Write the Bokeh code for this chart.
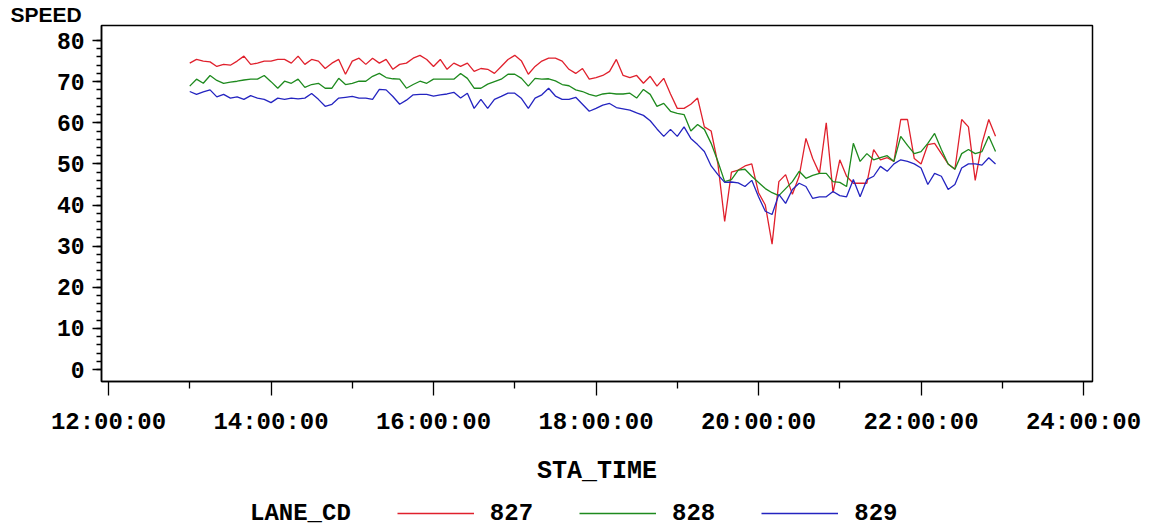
import numpy as np
from bokeh.plotting import figure
from bokeh.layouts import column
from bokeh.models import (Range1d, FixedTicker, Legend, LegendItem, ColumnDataSource)
from bokeh.embed import file_html
from bokeh.resources import INLINE

# ---- data (5-minute samples from 13:00 to 22:55) ----
legend_title = "LANE_CD"
lanes = ["827", "828", "829"]
speed_827 = [74.5, 75.4, 75, 74.8, 73.7, 74.2, 74, 75, 76.2, 74.2,
             74.5, 75, 75, 75.4, 75.4, 74.5, 76.2, 74.2, 75.4, 75,
             73.2, 74.5, 75.4, 71.8, 75, 75.7, 74.2, 75.7, 74.5, 75.4,
             73, 74.2, 74.5, 75.7, 76.4, 75.4, 73.7, 75.4, 73, 74.5,
             73.7, 74.5, 72.5, 73.2, 73, 72, 73.7, 75.4, 76.4, 75,
             71.8, 73.7, 75, 75.7, 75.7, 75, 73, 72, 73.2, 70.6,
             71, 71.5, 72.5, 75.4, 71.5, 71, 71.5, 69.6, 71.3, 68.9,
             70.8, 67, 63.5, 63.5, 64.5, 66, 59, 58, 50, 36,
             48, 48.5, 49.5, 50, 43, 40, 30.5, 45.7, 47.4, 42.6,
             47, 56.2, 51.3, 47.7, 60, 43, 51, 47, 45.3, 45.3,
             45.3, 53.5, 51, 51.5, 50.6, 60.8, 60.8, 51.3, 50, 54.7,
             55, 52.5, 50, 48.7, 60.8, 59, 46, 55, 60.8, 56.7]
speed_828 = [68.9, 70.6, 69.6, 71.5, 70.3, 69.6, 69.9, 70.1, 70.4, 70.6,
             70.6, 71.5, 70, 68.4, 70.1, 69.6, 70.6, 68.6, 69.3, 69.6,
             68.4, 68.4, 70.8, 69.3, 69.6, 70.1, 70.1, 71.3, 72, 71,
             70.7, 70.6, 68.4, 69.3, 70.1, 69.6, 70.6, 70.6, 70.6, 70.6,
             72, 70.8, 68.4, 68.4, 69.4, 70, 70.6, 71.8, 71.8, 70.8,
             68.9, 70.8, 70.6, 70.7, 70.2, 69.3, 69, 68, 67.6, 66.9,
             66.5, 67, 67.2, 67, 67, 67.2, 66, 68.1, 66.9, 64,
             64.7, 62.8, 62.3, 62, 58, 59.6, 58.4, 55, 50.6, 45.7,
             46.2, 48.5, 48.7, 47, 45.5, 44, 43, 42.3, 44, 45.7,
             48.2, 46.5, 47.2, 47.7, 47.7, 45.7, 45.5, 44.5, 55, 50.6,
             52.5, 51, 51.5, 52, 50.6, 56.7, 54.5, 52.5, 53, 55,
             57.4, 53.5, 50, 48.7, 52.5, 53.5, 52.5, 53, 56.7, 53]
speed_829 = [67.6, 66.9, 67.5, 68, 66.3, 66.9, 66, 66.3, 65.7, 66.6,
             66, 65.7, 64.9, 66, 65.7, 66, 65.8, 66, 67.1, 65.7,
             64, 64.5, 66, 66.2, 66.4, 66, 66, 65.7, 68.1, 68,
             66.4, 64.5, 65.5, 66.8, 66.9, 66.9, 66.5, 66.8, 67, 67.4,
             66, 67.2, 63.5, 65.7, 63.5, 65.7, 66.4, 67.2, 67.2, 65.9,
             63.5, 66, 66.8, 68.4, 66.5, 65.7, 65.7, 66.2, 64.5, 62.8,
             63.5, 64.3, 64.7, 63.7, 63.4, 63.1, 62.4, 61.8, 60.5, 58.5,
             56.7, 58.4, 56.7, 59, 56.2, 54.7, 53, 49.5, 47.4, 45.5,
             45.6, 45.4, 44.5, 46, 42, 38.5, 37.7, 42.6, 40.4, 43.8,
             45.3, 44.5, 41.6, 42, 42, 43.3, 42.3, 42, 46.2, 42,
             46.2, 47, 49.4, 48.2, 50, 51, 50.6, 50, 49, 45,
             47.7, 47, 43.8, 45, 49, 50, 50, 49.7, 51.5, 50]
sta_time_hours = 13 + np.arange(len(speed_827)) * 5 / 60.0

x_tick_values = [12, 14, 16, 18, 20, 22, 24]
x_tick_labels = ["12:00:00", "14:00:00", "16:00:00", "18:00:00",
                 "20:00:00", "22:00:00", "24:00:00"]
x_minor_values = [13, 15, 17, 19, 21, 23]
y_tick_values = [0, 10, 20, 30, 40, 50, 60, 70, 80]
y_minor_values = list(range(0, 81, 2))

colors = ["#e0202c", "#1e8a1e", "#2424c0"]
FONT = "Liberation Mono"
series = [speed_827, speed_828, speed_829]

# ---------------- main chart ----------------
p = figure(frame_width=991, frame_height=356,
           x_range=Range1d(11.914, 24.11), y_range=Range1d(-2.9, 83.65),
           output_backend="svg", toolbar_location=None,
           min_border_left=101, min_border_right=58, min_border_top=24,
           min_border_bottom=107, background_fill_color="white",
           border_fill_color="white")
p.grid.visible = False
p.outline_line_color = "black"
p.outline_line_width = 1.5

p.title.text = "SPEED"
p.title.align = "left"
p.title.offset = -91
p.title.standoff = 0
p.title.text_font = "Liberation Sans"
p.title.text_font_style = "bold"
p.title.text_font_size = "21px"
p.title.text_color = "black"

for vals, c in zip(series, colors):
    src = ColumnDataSource(dict(x=sta_time_hours, y=vals))
    p.line("x", "y", source=src, line_color=c, line_width=1.3)

xa = p.xaxis[0]
xa.ticker = FixedTicker(ticks=x_tick_values, minor_ticks=x_minor_values)
xa.major_label_overrides = {v: l for v, l in zip(x_tick_values, x_tick_labels)}
xa.axis_label = "STA_TIME"
ya = p.yaxis[0]
ya.ticker = FixedTicker(ticks=y_tick_values, minor_ticks=y_minor_values)

for ax in (xa, ya):
    ax.axis_line_color = "black"
    ax.axis_line_width = 1.5
    ax.major_tick_line_color = "black"
    ax.minor_tick_line_color = "black"
    ax.major_tick_line_width = 1.3
    ax.minor_tick_line_width = 1.3
    ax.major_tick_in = 0
    ax.minor_tick_in = 0
    ax.major_label_text_font = FONT
    ax.major_label_text_font_style = "bold"
    ax.major_label_text_color = "black"
    ax.axis_label_text_font = FONT
    ax.axis_label_text_font_style = "bold"
    ax.axis_label_text_font_size = "25px"
    ax.axis_label_text_color = "black"

xa.major_label_text_font_size = "24px"
ya.major_label_text_font_size = "23px"
xa.major_tick_out = 14
xa.minor_tick_out = 7
xa.major_label_standoff = 13
xa.axis_label_standoff = 18
ya.major_tick_out = 9
ya.minor_tick_out = 5
ya.major_label_standoff = 8

# ---------------- legend strip ----------------
p2 = figure(width=1150, height=44, title=None,
            x_range=Range1d(0, 1), y_range=Range1d(1000, 1001),
            output_backend="svg", toolbar_location=None,
            x_axis_location=None, y_axis_location=None,
            min_border=0, min_border_left=0, min_border_right=0,
            min_border_top=0, min_border_bottom=0,
            background_fill_color="white", border_fill_color="white")
p2.grid.visible = False
p2.outline_line_color = None

leg_renderers = []
for vals, c in zip(series, colors):
    src = ColumnDataSource(dict(x=sta_time_hours, y=vals))
    leg_renderers.append(p2.line("x", "y", source=src, line_color=c, line_width=1.3))
heading_r = p2.line(x=[], y=[], line_alpha=0)

items = [LegendItem(label=legend_title, renderers=[heading_r])]
items += [LegendItem(label=l, renderers=[r]) for l, r in zip(lanes, leg_renderers)]
legend = Legend(items=items, orientation="horizontal",
                glyph_width=77, glyph_height=30, label_width=0,
                label_standoff=16, spacing=46, padding=0, margin=0,
                border_line_color=None, background_fill_alpha=0,
                label_text_font=FONT, label_text_font_style="bold",
                label_text_font_size="24px", label_text_color="black",
                location=(56, 4))
p2.add_layout(legend)

layout = column(p, p2, spacing=0)
open("out.html", "w").write(file_html(layout, INLINE))
